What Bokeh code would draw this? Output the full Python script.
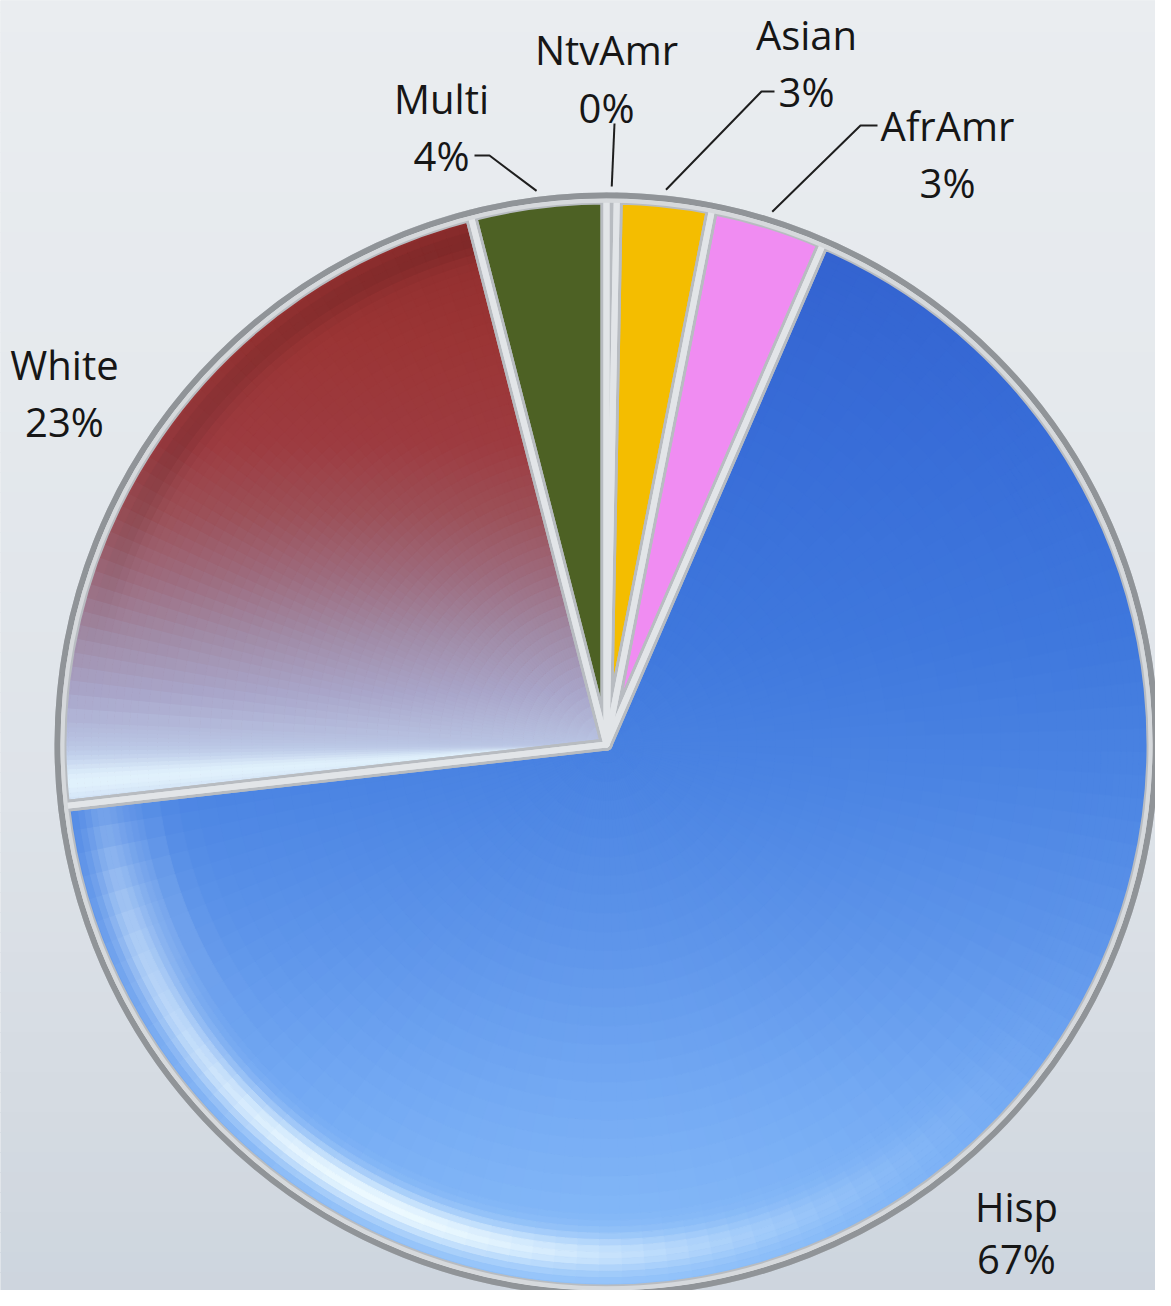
import numpy as np
from bokeh.plotting import figure
from bokeh.models import ColumnDataSource, Range1d
from bokeh.core.properties import value
from bokeh.embed import file_html
from bokeh.resources import INLINE

# ---------------- data (clockwise from 12 o'clock) ----------------
categories = ["NtvAmr", "Asian", "AfrAmr", "Hisp", "White", "Multi"]
shares = [0.3, 2.8, 3.4, 66.7, 22.8, 4.0]
pct_labels = ["0%", "3%", "3%", "67%", "23%", "4%"]
slice_colors = ["#e6edf7", "#f4bd00", "#f08cf2", "#4a80e0", "#9c3c44", "#4d6124"]

# ---------------- layout ----------------
W, H = 1155, 1290
def Y(yr):  # reference-pixel y -> data y (y up)
    return 1306 - yr

CX, CY_REF, R = 614, 752, 546
CY = Y(CY_REF)

label_pos = {  # x centre, baseline of name, baseline of percentage (reference px)
    "NtvAmr": (614, 57, 115),
    "Asian": (814, 42, 99),
    "AfrAmr": (955, 133, 190),
    "Hisp": (1024, 1214, 1266),
    "White": (72, 372, 429),
    "Multi": (449, 106, 163),
}
leader_start = {
    "Multi": [(482, 163), (497, 163)],
    "NtvAmr": [(622, 131)],
    "Asian": [(782, 99), (769, 99)],
    "AfrAmr": [(885, 133), (868, 133)],
}


def hex2rgb(h):
    return np.array([int(h[i:i + 2], 16) for i in (1, 3, 5)], float)


def rgb2hex(c):
    c = np.clip(np.round(c), 0, 255).astype(int)
    return "#%02x%02x%02x" % tuple(c)


def interp_stops(y, stops):
    ys = [s[0] for s in stops]
    cols = np.array([hex2rgb(s[1]) for s in stops])
    return np.array([np.interp(y, ys, cols[:, k]) for k in range(3)])


def blend(c, target, s):
    return c * (1 - s) + hex2rgb(target) * s


p = figure(width=W, height=H, output_backend="svg", toolbar_location=None,
           x_range=Range1d(8, 8 + W), y_range=Range1d(8, 8 + H),
           x_axis_location=None, y_axis_location=None, min_border=0)
p.outline_line_color = None
p.grid.visible = False
p.background_fill_color = "#e2e6ea"
p.border_fill_color = "#e2e6ea"

# ---------------- background gradient ----------------
bg_stops = [(0, "#eaedf0"), (400, "#e5e9ed"), (800, "#dee3e9"), (1100, "#d5dbe2"), (1306, "#cdd5de")]
bys = np.arange(0, 1320, 20)
bq = dict(left=[], right=[], top=[], bottom=[], color=[])
for y0, y1 in zip(bys[:-1], bys[1:]):
    bq["left"].append(0); bq["right"].append(1200)
    bq["top"].append(Y(y0)); bq["bottom"].append(Y(y1))
    bq["color"].append(rgb2hex(interp_stops((y0 + y1) / 2, bg_stops)))
p.quad(left="left", right="right", top="top", bottom="bottom", fill_color="color",
       line_color="color", line_width=1, source=ColumnDataSource(bq))

# ---------------- slices ----------------
cum = np.concatenate([[0], np.cumsum(shares)]) / 100.0 * 2 * np.pi
th0, th1 = cum[:-1], cum[1:]  # clockwise from top
src = ColumnDataSource(dict(
    cat=categories, share=shares, color=slice_colors,
    start=np.pi / 2 - th1, end=np.pi / 2 - th0,
    x=[CX] * len(shares), y=[CY] * len(shares)))
p.wedge(x="x", y="y", radius=R, start_angle="start", end_angle="end",
        direction="anticlock", fill_color="color", line_color="color", line_width=1, source=src)

# ---------------- shading (gradient cells inside big slices) ----------------
hisp_stops = [(240, "#3362cf"), (450, "#386dd8"), (650, "#3f78dd"), (800, "#4c85e3"),
              (950, "#5e95ea"), (1100, "#73a9f3"), (1250, "#86baf8"), (1310, "#8ec0fa")]
white_stops = [(215, "#8e2c2c"), (350, "#9b3535"), (450, "#9d3b40"), (520, "#9c5058"),
               (580, "#9d6a7c"), (640, "#a08aa5"), (700, "#a9a6ca"), (760, "#bccae8"), (830, "#cadcf6")]

cells = dict(x=[], y=[], ir=[], orr=[], sa=[], ea=[], color=[])


def add_cells(tedges, redges, colfun):
    for a0, a1 in zip(tedges[:-1], tedges[1:]):
        ac = 0.5 * (a0 + a1)
        for r0, r1 in zip(redges[:-1], redges[1:]):
            rc = 0.5 * (r0 + r1)
            yref = CY_REF - rc * np.cos(ac)
            col = colfun(np.degrees(ac), rc / R, yref)
            cells["x"].append(CX); cells["y"].append(CY)
            cells["ir"].append(r0); cells["orr"].append(r1)
            cells["sa"].append(np.pi / 2 - a1 - 0.002)
            cells["ea"].append(np.pi / 2 - a0 + 0.002)
            cells["color"].append(rgb2hex(col))


def hisp_col(tdeg, rn, yref):
    c = interp_stops(yref, hisp_stops)
    s = 0.95 * np.exp(-((tdeg - 207) / 40.0) ** 2) * np.exp(-((rn - 0.935) / 0.035) ** 2)
    s += 0.25 * np.exp(-((tdeg - 250) / 14.0) ** 2) * np.exp(-((rn - 0.9) / 0.07) ** 2)
    return blend(c, "#f2fdff", min(s, 0.95))


ih, iw = 3, 4
e_w = np.degrees(th0[iw])


def white_col(tdeg, rn, yref):
    c = interp_stops(yref, white_stops)
    wdark = np.clip((660 - yref) / 200.0, 0, 1)
    c = c * (1 - 0.12 * wdark * np.exp(-((rn - 0.955) / 0.03) ** 2))
    dd = tdeg - e_w
    s = 0.85 * np.exp(-((dd - 2.6) / 2.2) ** 2)
    if rn < 0.08:
        s *= rn / 0.08
    return blend(c, "#e6f7ff", s)


red_h = np.concatenate([np.linspace(0, 0.86, 26), np.linspace(0.86, 1.0, 13)[1:]]) * R
red_w = np.concatenate([np.linspace(0, 0.86, 46), np.linspace(0.86, 1.0, 11)[1:]]) * R
add_cells(np.linspace(th0[ih], th1[ih], 97), red_h, hisp_col)
tw = np.concatenate([np.linspace(th0[iw], th0[iw] + np.radians(9), 19),
                     np.linspace(th0[iw] + np.radians(9), th1[iw], 50)[1:]])
add_cells(tw, red_w, white_col)
p.annular_wedge(x="x", y="y", inner_radius="ir", outer_radius="orr", start_angle="sa",
                end_angle="ea", direction="anticlock", fill_color="color", line_color="color",
                line_width=1, source=ColumnDataSource(cells))

# ---------------- separators and rim ----------------
p.wedge(x="x", y="y", radius=R, start_angle="start", end_angle="end", direction="anticlock",
        fill_color=None, line_color="#b8bcc1", line_width=12, line_join="round", source=src)
p.wedge(x="x", y="y", radius=R, start_angle="start", end_angle="end", direction="anticlock",
        fill_color=None, line_color="#e2e5e8", line_width=6, line_join="round", source=src)
p.circle(x=[CX], y=[CY], radius=R + 3, fill_color=None, line_color="#909498", line_width=6)
p.circle(x=[CX], y=[CY], radius=R - 2, fill_color=None, line_color="#d6d9dc", line_width=4)

# ---------------- leader lines ----------------
xs, ys = [], []
for i, cat in enumerate(categories):
    if cat in leader_start:
        mid = 0.5 * (th0[i] + th1[i])
        ax, ay = CX + (R + 12) * np.sin(mid), CY_REF - (R + 12) * np.cos(mid)
        pts = leader_start[cat] + [(ax, ay)]
        xs.append([q[0] for q in pts]); ys.append([Y(q[1]) for q in pts])
p.multi_line(xs=xs, ys=ys, line_color="#1e1e1e", line_width=2)

# ---------------- labels ----------------
tx, ty, tt = [], [], []
for cat, pct in zip(categories, pct_labels):
    x0, b1, b2 = label_pos[cat]
    tx += [x0, x0]; ty += [Y(b1), Y(b2)]; tt += [cat, pct]
p.text(x=tx, y=ty, text=tt, text_align="center", text_baseline="alphabetic",
       text_font=value("Open Sans"), text_font_size=value("40px"), text_color="#161616")

open("out.html", "w").write(file_html(p, INLINE))
